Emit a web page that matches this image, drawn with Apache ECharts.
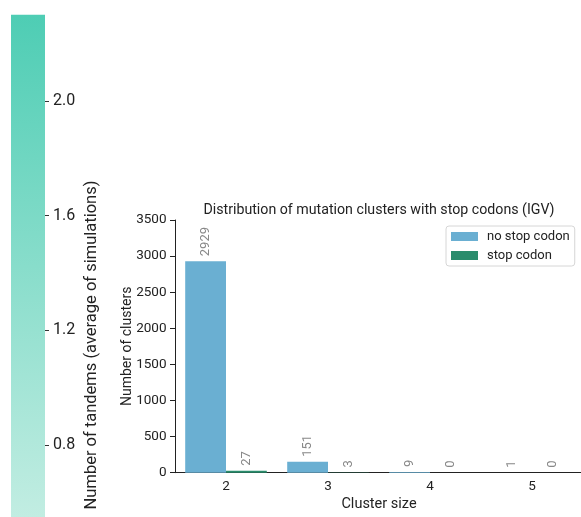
<!DOCTYPE html>
<html><head><meta charset="utf-8">
<script src="https://cdn.jsdelivr.net/npm/echarts@6/dist/echarts.min.js"></script>
<style>html,body{margin:0;padding:0;background:#fff}#c{width:581px;height:517px}</style>
</head><body><div id="c"></div>
<script>
const categories = ['2', '3', '4', '5'];
const noStopCodon = [2929, 151, 9, 1];
const stopCodon = [27, 3, 0, 0];
const colorbarTop = [2.30];
const colorbarMin = 0.4, colorbarMax = 2.4, colorbarStep = 0.4;

const FONT = 'Roboto, "Noto Sans", sans-serif';
const chart = echarts.init(document.getElementById('c'), null, {renderer: 'canvas'});
chart.setOption({
  animation: false,
  textStyle: {fontFamily: FONT},
  title: {
    text: 'Distribution of mutation clusters with stop codons (IGV)',
    left: 374, top: 198, textAlign: 'center',
    textStyle: {fontSize: 14.2, fontWeight: 'normal', color: '#222', fontFamily: FONT}
  },
  legend: {
    orient: 'vertical', left: 446, top: 226,
    padding: [4, 5, 4, 5], itemGap: 6,
    itemWidth: 27, itemHeight: 9, icon: 'rect',
    borderColor: '#d6d6d6', borderWidth: 1, borderRadius: 3,
    textStyle: {fontSize: 13, color: '#222', fontFamily: FONT, padding: [0, 0, 0, 4]},
    data: ['no stop codon', 'stop codon']
  },
  grid: [
    {left: 175, right: -2, top: 220, bottom: 44.3, containLabel: false, outerBoundsMode: 'none'},
    {left: 11, width: 34, top: -14, height: 574, containLabel: false, outerBoundsMode: 'none'}
  ],
  xAxis: [
    {
      gridIndex: 0, type: 'category', data: categories,
      name: 'Cluster size', nameLocation: 'middle', nameGap: 24, nameMoveOverlap: false,
      nameTextStyle: {fontSize: 14.5, color: '#222'},
      axisLine: {lineStyle: {color: '#222', width: 1}},
      axisTick: {alignWithLabel: true, length: 5, lineStyle: {color: '#222'}},
      axisLabel: {fontSize: 13.5, color: '#222', margin: 7}
    },
    {
      gridIndex: 1, type: 'category', data: ['cb'], show: false
    }
  ],
  yAxis: [
    {
      gridIndex: 0, type: 'value', min: 0, max: 3500, interval: 500,
      name: 'Number of clusters', nameLocation: 'middle', nameGap: 41, nameMoveOverlap: false,
      nameTextStyle: {fontSize: 14, color: '#222'},
      axisLine: {show: true, lineStyle: {color: '#222', width: 1}},
      axisTick: {show: true, length: 5, lineStyle: {color: '#222'}},
      axisLabel: {fontSize: 13.5, color: '#222', margin: 8.5, formatter: v => String(v)},
      splitLine: {show: false}
    },
    {
      gridIndex: 1, type: 'value', position: 'right',
      min: colorbarMin, max: colorbarMax, interval: colorbarStep,
      axisLine: {show: false},
      axisTick: {show: true, length: 4, lineStyle: {color: '#333'}},
      axisLabel: {fontSize: 16, color: '#222', margin: 8,
        formatter: v => v.toFixed(1)},
      splitLine: {show: false}
    }
  ],
  series: [
    {
      name: 'no stop codon', type: 'bar', xAxisIndex: 0, yAxisIndex: 0,
      data: noStopCodon, barGap: '0%', barCategoryGap: '20%',
      itemStyle: {color: '#6aafd2'},
      label: {show: true, position: 'top', rotate: 90, align: 'left', verticalAlign: 'middle',
        distance: 5, fontSize: 13, color: '#888'}
    },
    {
      name: 'stop codon', type: 'bar', xAxisIndex: 0, yAxisIndex: 0,
      data: stopCodon, barGap: '0%', barCategoryGap: '20%',
      itemStyle: {color: '#2a8c6c'},
      label: {show: true, position: 'top', rotate: 90, align: 'left', verticalAlign: 'middle',
        distance: 5, fontSize: 13, color: '#888'}
    },
    {
      name: 'colorbar', type: 'bar', xAxisIndex: 1, yAxisIndex: 1,
      data: colorbarTop, barWidth: '100%', silent: true,
      itemStyle: {color: new echarts.graphic.LinearGradient(0, 0, 0, 1, [
        {offset: 0, color: '#4ecdb4'},
        {offset: 0.923, color: '#c2ede2'},
        {offset: 1, color: '#cbf0e7'}
      ])}
    }
  ],
  graphic: [
    {
      type: 'text', x: 92, y: 345, rotation: Math.PI / 2,
      style: {text: 'Number of tandems (average of simulations)', fontSize: 16.5,
        fontFamily: FONT, fill: '#222', align: 'center', verticalAlign: 'middle'}
    }
  ]
});
</script></body></html>
